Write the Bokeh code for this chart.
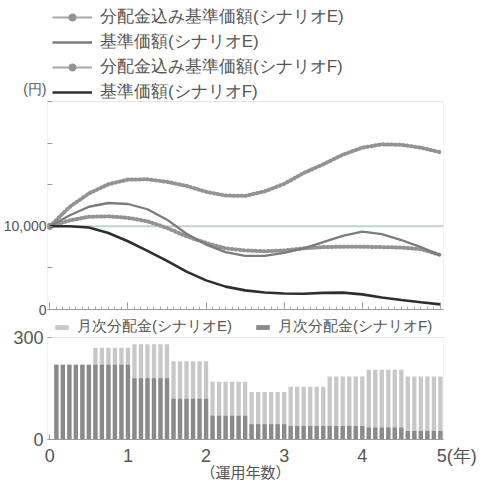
from bokeh.plotting import figure
from bokeh.models import (Range1d, Legend, LegendItem, FixedTicker,
                          SingleIntervalTicker, Span, BoxAnnotation)
from bokeh.layouts import column
from bokeh.embed import file_html
from bokeh.resources import INLINE

FONT = "Noto Sans CJK JP"
NUM_FONT = "Liberation Sans"
TXT = "#555555"
FRAME = "#a8a8a8"

# ---- data -------------------------------------------------------------
years = [0.0, 0.25, 0.5, 0.75, 1.0, 1.25, 1.5, 1.75, 2.0, 2.25, 2.5,
         2.75, 3.0, 3.25, 3.5, 3.75, 4.0, 4.25, 4.5, 4.75, 5.0]
nav_dist_E = [10000, 12300, 13950, 15050, 15620, 15650, 15350, 14850, 14150, 13700, 13650,
              14200, 15100, 16400, 17450, 18600, 19450, 19850, 19800, 19450, 18900]
nav_E = [10000, 11300, 12350, 12800, 12680, 12050, 10800, 9100, 7800, 6900, 6450,
         6450, 6800, 7350, 8100, 8850, 9350, 9050, 8350, 7500, 6500]
nav_dist_F = [10000, 10700, 11150, 11200, 11020, 10600, 9800, 8800, 8000, 7350, 7100,
              7000, 7100, 7350, 7500, 7550, 7550, 7500, 7450, 7250, 6550]
nav_F = [10000, 10000, 9850, 9200, 8200, 7050, 5850, 4550, 3500, 2750, 2300,
         2050, 1930, 1900, 2000, 2030, 1820, 1450, 1150, 880, 620]

months = list(range(1, 61))
dist_E = [220, 220, 220, 220, 220, 220, 270, 270, 270, 270, 270, 270,
          280, 280, 280, 280, 280, 280, 230, 230, 230, 230, 230, 230,
          170, 170, 170, 170, 170, 170, 140, 140, 140, 140, 140, 140,
          155, 155, 155, 155, 155, 155, 185, 185, 185, 185, 185, 185,
          205, 205, 205, 205, 205, 205, 185, 185, 185, 185, 185, 185]
dist_F = [220, 220, 220, 220, 220, 220, 220, 220, 220, 220, 220, 220,
          180, 180, 180, 180, 180, 180, 120, 120, 120, 120, 120, 120,
          70, 70, 70, 70, 70, 70, 45, 45, 45, 45, 45, 45,
          40, 40, 40, 40, 40, 40, 40, 40, 40, 40, 40, 40,
          35, 35, 35, 35, 35, 35, 25, 25, 25, 25, 25, 25]

line_labels = ["分配金込み基準価額(シナリオE)", "基準価額(シナリオE)",
               "分配金込み基準価額(シナリオF)", "基準価額(シナリオF)"]
bar_labels = ["月次分配金(シナリオE)", "月次分配金(シナリオF)"]
y_ticks_top = [0, 5000, 10000, 15000, 20000, 25000]
y_max_top = 25000
y_ticks_bottom = [0, 300]
y_max_bottom = 300
x_ticks = [0, 1, 2, 3, 4, 5]
unit_yen = "(円)"
unit_year = "(年)"
x_title = "（運用年数）"

# ---- layout constants (pixels) ---------------------------------------
X0, X1 = -0.03, 5.04
month_x = [m / 12 for m in months]
W = 482
LEFT, RIGHT = 47, 39
TOP_AREA = 101          # legend area above the upper chart
CH1 = 208               # upper chart height
CH2_TOP = 19            # bar-legend strip above the lower chart
CH2 = 102               # lower chart height

# ---- upper chart ------------------------------------------------------
Y1 = y_max_top * (TOP_AREA + CH1) / CH1
p1 = figure(width=W, frame_height=TOP_AREA + CH1,
            x_range=Range1d(X0, X1), y_range=Range1d(0, Y1),
            output_backend="svg", toolbar_location=None,
            min_border_left=LEFT, min_border_right=RIGHT, min_border_top=0, min_border_bottom=9)
p1.grid.visible = False
p1.outline_line_color = None

p1.add_layout(Span(location=10000, dimension="width", line_color="#c2d2da",
                   line_width=2, level="underlay"))
p1.add_layout(BoxAnnotation(bottom=0, top=y_max_top, fill_color=None,
                            line_color=FRAME, line_width=1))

r_Ed = p1.line(years, nav_dist_E, line_color="#a8a8a8", line_width=2)
p1.line(years, nav_dist_E, line_color="#939393", line_width=4, line_dash="1 3", line_cap="round")
m_Ed = p1.scatter(x=years[:1], y=nav_dist_E[:1], marker="circle", size=6,
                  fill_color="#939393", line_color="#939393")

r_Fd = p1.line(years, nav_dist_F, line_color="#a8a8a8", line_width=2)
p1.line(years, nav_dist_F, line_color="#939393", line_width=4, line_dash="1 3", line_cap="round")
m_Fd = p1.scatter(x=years[:1], y=nav_dist_F[:1], marker="circle", size=6,
                  fill_color="#939393", line_color="#939393")

r_E = p1.line(years, nav_E, line_color="#7c7c7c", line_width=2.3)
r_F = p1.line(years, nav_F, line_color="#2e2e2e", line_width=2.6)

legend1 = Legend(items=[LegendItem(label=line_labels[0], renderers=[r_Ed, m_Ed]),
                        LegendItem(label=line_labels[1], renderers=[r_E]),
                        LegendItem(label=line_labels[2], renderers=[r_Fd, m_Fd]),
                        LegendItem(label=line_labels[3], renderers=[r_F])],
                 orientation="vertical", location=(5, TOP_AREA + CH1 - 103),
                 glyph_width=40, glyph_height=18, label_height=18, spacing=2,
                 padding=0, margin=0, label_standoff=8,
                 label_text_font=NUM_FONT, label_text_font_size="17px", label_text_color=TXT,
                 background_fill_alpha=0, border_line_alpha=0)
p1.add_layout(legend1)

p1.xaxis.ticker = SingleIntervalTicker(interval=1, num_minor_ticks=12)
p1.xaxis.major_label_text_font_size = "1px"
p1.xaxis.major_label_text_color = None
p1.xaxis.major_label_standoff = 0
p1.xaxis.major_tick_in = 7
p1.xaxis.major_tick_out = 0
p1.xaxis.minor_tick_in = 3
p1.xaxis.minor_tick_out = 0
p1.xaxis.axis_line_color = "#999999"
p1.xaxis.major_tick_line_color = "#999999"
p1.xaxis.minor_tick_line_color = "#aaaaaa"

yen_pos = y_max_top + 13 * y_max_top / CH1       # unit label beside the last legend row
p1.yaxis.ticker = FixedTicker(ticks=[0, 10000, yen_pos], minor_ticks=y_ticks_top)
p1.yaxis.major_label_overrides = {0: "0", 10000: "10,000", yen_pos: unit_yen}
p1.yaxis.major_tick_in = 0
p1.yaxis.major_tick_out = 0
p1.yaxis.minor_tick_in = 5
p1.yaxis.minor_tick_out = 0
p1.yaxis.minor_tick_line_color = "#999999"
p1.yaxis.axis_line_color = None
p1.yaxis.major_label_standoff = 1
p1.yaxis.major_label_text_font = NUM_FONT
p1.yaxis.major_label_text_font_size = "14px"
p1.yaxis.major_label_text_color = TXT

# ---- lower chart ------------------------------------------------------
Y2 = y_max_bottom * (CH2_TOP + CH2) / CH2
p2 = figure(width=W, frame_height=CH2_TOP + CH2,
            x_range=Range1d(X0, X1), y_range=Range1d(0, Y2),
            output_backend="svg", toolbar_location=None,
            min_border_left=LEFT, min_border_right=RIGHT, min_border_top=0, min_border_bottom=47)
p2.grid.visible = False
p2.outline_line_color = None

rE = p2.vbar(x=month_x, top=dist_E, width=0.055, fill_color="#c8c8c8", line_color=None)
rF = p2.vbar(x=month_x, top=dist_F, width=0.055, fill_color="#8a8a8a", line_color=None)
p2.add_layout(BoxAnnotation(bottom=0, top=y_max_bottom, fill_color=None,
                            line_color=FRAME, line_width=1))

legend2 = Legend(items=[LegendItem(label=bar_labels[0], renderers=[rE]),
                        LegendItem(label=bar_labels[1], renderers=[rF])],
                 orientation="horizontal", location=(6, CH2 + 1),
                 glyph_width=17, glyph_height=6, label_height=16, spacing=22,
                 padding=0, margin=0, label_standoff=7,
                 label_text_font=NUM_FONT, label_text_font_size="15px", label_text_color=TXT,
                 background_fill_alpha=0, border_line_alpha=0)
p2.add_layout(legend2)

p2.xaxis.ticker = FixedTicker(ticks=x_ticks, minor_ticks=[])
p2.xaxis.major_label_overrides = {5: "\u3000\u00a0\u00a0\u00a05" + unit_year}
p2.xaxis.major_tick_in = 5
p2.xaxis.major_tick_out = 0
p2.xaxis.major_label_standoff = 6
p2.xaxis.major_label_text_font = NUM_FONT
p2.xaxis.major_label_text_font_size = "18px"
p2.xaxis.major_label_text_color = TXT
p2.xaxis.axis_label = x_title
p2.xaxis.axis_label_text_font = FONT
p2.xaxis.axis_label_text_font_size = "15px"
p2.xaxis.axis_label_text_font_style = "normal"
p2.xaxis.axis_label_text_color = TXT
p2.xaxis.axis_label_standoff = -8
p2.xaxis.axis_line_color = "#999999"
p2.xaxis.major_tick_line_color = "#999999"

p2.yaxis.ticker = FixedTicker(ticks=y_ticks_bottom, minor_ticks=[])
p2.yaxis.major_tick_in = 4
p2.yaxis.major_tick_out = 0
p2.yaxis.axis_line_color = None
p2.yaxis.major_tick_line_color = "#999999"
p2.yaxis.major_label_standoff = 4
p2.yaxis.major_label_text_font = NUM_FONT
p2.yaxis.major_label_text_font_size = "18px"
p2.yaxis.major_label_text_color = TXT

layout = column(p1, p2, spacing=0)
open("out.html", "w").write(file_html(layout, INLINE, title="chart"))
